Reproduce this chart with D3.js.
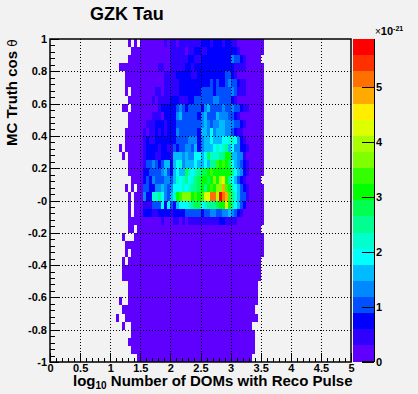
<!DOCTYPE html>
<html><head><meta charset="utf-8">
<script src="https://cdn.jsdelivr.net/npm/d3@7"></script>
<style>
html,body{margin:0;padding:0;background:#f2f2f2}
svg{display:block}
text{font-family:"Liberation Sans",Arial,sans-serif;font-weight:bold;fill:#000}
.domain{display:none}
</style></head><body><div id="c"></div>
<script>
// Binning: 100 columns on log10(DOMs) 0..5, 40 rows on cos(theta) -1..1, top row first.
const colCount = 100, rowCount = 40;
const xTicks = [0,0.5,1,1.5,2,2.5,3,3.5,4,4.5,5];
const yTicks = [1,0.8,0.6,0.4,0.2,0,-0.2,-0.4,-0.6,-0.8,-1];
const yTickLabels = ["1","0.8","0.6","0.4","0.2","-0","-0.2","-0.4","-0.6","-0.8","-1"];
const zTicks = [0,1,2,3,4,5];
const zMax = 5.87;
const palette = ["#5f00ff","#3000ff","#0000ff","#0050ff","#0088ff","#00bbff","#00ffff","#00ffcc","#00ff90","#00ff50","#00ff00","#33ff00","#80ff00","#aaff00","#ddff00","#ffee00","#ffaa00","#ff7000","#ff3000","#ff0000"];
// Occupied cells for columns 22..29, one string per row ('.' is an empty bin).
const leftEdge = ["....0.0.",".....000","....0000",".0000000","...00000","...00000","...0.000","....0000","..00.000","....0000","....0000","...00000","...00000",".0.00000","..0.0000","....0000","....0000",".....000","...0.0.0","....0.00","....0.00","....0.00","....0000","....00.0","..0...00","...00000","...0.000","..0.0000","..000000","..000000","....0000","....0000",".0..0000","..000000","0..00000","..0..000",".....000","....0000",".....000",".......0"];
// Last occupied column of each row.
const rightEnd = [70,70,69,70,70,70,70,70,70,70,70,70,70,70,70,70,70,69,70,70,70,70,70,69,70,70,70,69,69,69,68,68,68,67,68,66,67,67,67,66];
// Colour-level of each bin from column 30 on (base 20); anything not listed is level 0.
const core = [
"00000000101101111111222122212211",
"000000000011111011221122222222221",
"0000000000111111221122222222224332100",
"00000011001111122122222222222221111",
"00000000111122222112222222223321",
"00000000111112222222222323223433211",
"000001101111122222223333233333431110",
"00001011112221112233333344333321",
"0000001222223432333324533334334332110",
"000011102222453333324533354443321",
"00111222122233333333454344554443321",
"0101121212224333333255464555443211",
"0121122222223333444245565556677642100",
"012222122113233443524555676785644221",
"0122211222155545446656977788aa55441",
"0133432355256745556556588baba9654321",
"0223333453256559767899abaaaaaa865421",
"02324333443576786789aa9acadea865321",
"03322445434666767889a8abaccgba765321",
"042277864357abcccababeehhdjhgb875331",
"011133362632566678996788 89aaea86532".replace(" ",""),
"0222112222122223333323344334454321",
"00000001000110101111111111221111",
"","","","","","","","","","","","","","","","",""
];
const gridLevel = d3.range(rowCount).map(r => {
  const cells = new Array(colCount).fill(null);
  for (let c = 22; c <= rightEnd[r]; c++) {
    if (c < 30) { if (leftEdge[r][c-22] === ".") continue; cells[c] = 0; }
    else { const ch = core[r][c-30]; cells[c] = ch === undefined ? 0 : parseInt(ch, 20); }
  }
  return cells;
});
const W = 418, H = 394, step = zMax / palette.length;
const svg = d3.select("#c").append("svg").attr("width",W).attr("height",H);
svg.append("rect").attr("width",W).attr("height",H).attr("fill","#f2f2f2");
const x = d3.scaleLinear().domain([0,5]).range([50,351]);
const y = d3.scaleLinear().domain([-1,1]).range([362,39]);
const z = d3.scaleQuantize().domain([0,zMax]).range(palette);
const zy = d3.scaleLinear().domain([0,zMax]).range([361.5,39]);

// heatmap
const binW = 5/colCount, binH = 2/rowCount;
const cells = [];
gridLevel.forEach((row,r)=>row.forEach((lv,c)=>{ if(lv!==null) cells.push({r,c,v:(lv+0.5)*step}); }));
svg.append("g").attr("shape-rendering","crispEdges").selectAll("rect").data(cells).join("rect")
  .attr("x",d=>Math.round(x(d.c*binW)))
  .attr("width",d=>Math.round(x((d.c+1)*binW))-Math.round(x(d.c*binW)))
  .attr("y",d=>Math.round(y(1-d.r*binH)))
  .attr("height",d=>Math.round(y(1-(d.r+1)*binH))-Math.round(y(1-d.r*binH)))
  .attr("fill",d=>z(d.v));

// dotted grid
const grid = svg.append("g").attr("stroke","#000").attr("stroke-width",1).attr("stroke-dasharray","1 2").attr("shape-rendering","crispEdges");
grid.selectAll(".gv").data(xTicks.slice(1,-1)).join("line").attr("x1",d=>Math.round(x(d))+.5).attr("x2",d=>Math.round(x(d))+.5).attr("y1",y(1)).attr("y2",y(-1));
grid.selectAll(".gh").data(yTicks.slice(1,-1)).join("line").attr("x1",x(0)).attr("x2",x(5)).attr("y1",d=>Math.round(y(d))+.5).attr("y2",d=>Math.round(y(d))+.5);

// axes
const xMinor = d3.range(0,5.0001,0.1), yMinor = d3.range(-1,1.0001,0.04);
const ax = svg.append("g").attr("transform",`translate(0,${y(-1)})`)
  .call(d3.axisBottom(x).tickValues(xMinor).tickSize(-4).tickFormat(""));
ax.selectAll("text").remove();
ax.append("g").call(d3.axisBottom(x).tickValues(xTicks).tickSize(-9).tickPadding(2).tickFormat(d=>d));
const ay = svg.append("g").attr("transform",`translate(${x(0)},0)`)
  .call(d3.axisLeft(y).tickValues(yMinor).tickSize(-5).tickFormat(""));
ay.selectAll("text").remove();
ay.append("g").call(d3.axisLeft(y).tickValues(yTicks).tickSize(-9).tickPadding(3).tickFormat((d,i)=>yTickLabels[i]));
svg.selectAll(".tick line").attr("stroke","#000").attr("stroke-width",1).attr("shape-rendering","crispEdges");
svg.selectAll(".tick text").attr("font-size",11).attr("fill","#000").attr("font-family",'"Liberation Sans"').attr("font-weight","bold");
// frame
svg.append("path").attr("d",`M${x(0)},${y(1)}V${y(-1)}H${x(5)}V${y(1)}Z`).attr("fill","none").attr("stroke","#000").attr("stroke-width",1.5);

// colour bar
const barX = 353, barR = 374;
svg.append("g").attr("shape-rendering","crispEdges").selectAll("rect").data(palette).join("rect")
  .attr("x",barX).attr("width",barR-barX)
  .attr("y",(d,i)=>Math.round(zy((i+1)*step))).attr("height",(d,i)=>Math.round(zy(i*step))-Math.round(zy((i+1)*step)))
  .attr("fill",d=>d);
const az = svg.append("g").attr("transform",`translate(${barR},0)`)
  .call(d3.axisRight(zy).tickValues(zTicks).tickSize(-12).tickPadding(3).tickFormat(d=>d));
az.selectAll(".tick line").attr("stroke","#000").attr("shape-rendering","crispEdges");
az.selectAll(".tick text").attr("x",2).attr("font-size",11).attr("fill","#000").attr("font-family",'"Liberation Sans"').attr("font-weight","bold");
svg.append("line").attr("x1",barR+.5).attr("x2",barR+.5).attr("y1",39).attr("y2",362).attr("stroke","#000");
svg.append("line").attr("x1",362).attr("x2",barR+1).attr("y1",361.5).attr("y2",361.5).attr("stroke","#000");

// texts
svg.append("text").attr("x",90).attr("y",20).attr("font-size",18).text("GZK Tau");
const xt = svg.append("text").attr("x",73).attr("y",385.5).attr("font-size",15);
xt.append("tspan").text("log");
xt.append("tspan").attr("font-size",10).attr("dy",3).text("10");
xt.append("tspan").attr("dy",-3).text(" Number of DOMs with Reco Pulse");
const yt = svg.append("text").attr("transform","translate(17,146) rotate(-90)").attr("font-size",15);
yt.append("tspan").text("MC Truth cos ");
yt.append("tspan").attr("font-size",12).attr("font-weight","normal").attr("font-family",'"DejaVu Sans"').text("θ");
const m = svg.append("text").attr("x",375).attr("y",35).attr("font-size",11);
m.append("tspan").attr("font-weight","normal").attr("font-size",10).text("×");
m.append("tspan").text("10");
m.append("tspan").attr("font-size",7).attr("dy",-4).text("-21");
</script></body></html>
